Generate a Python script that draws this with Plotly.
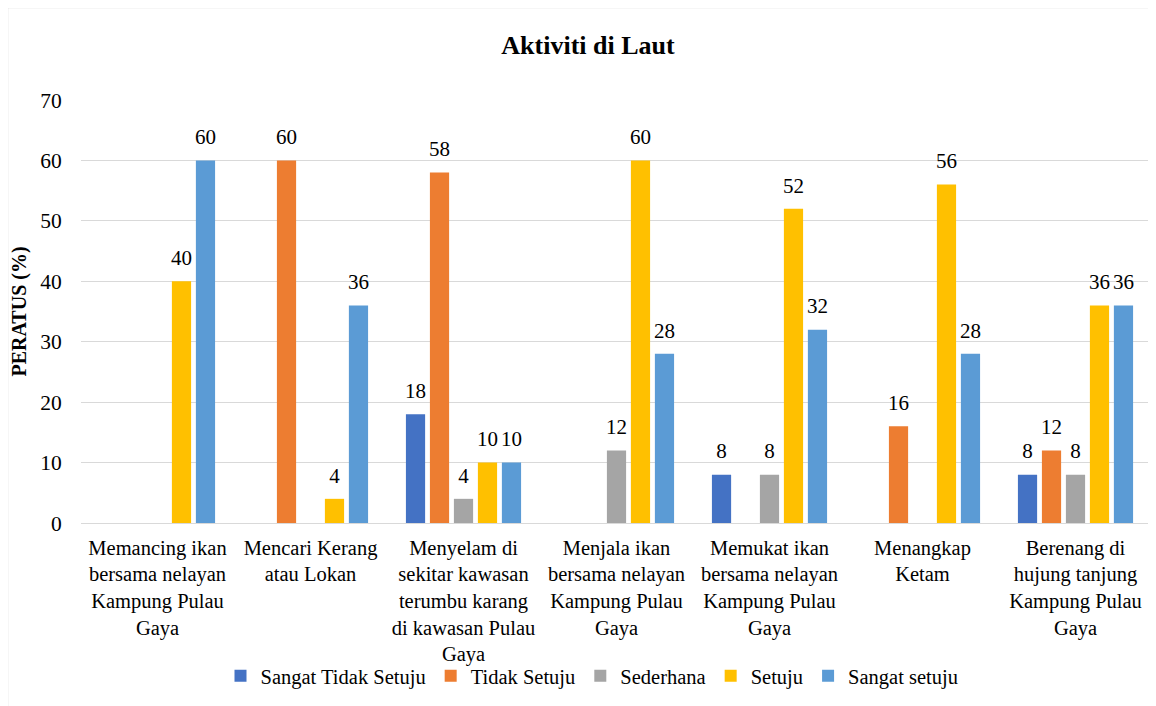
import plotly.graph_objects as go

categories = [
    "Memancing ikan<br>bersama nelayan<br>Kampung Pulau<br>Gaya",
    "Mencari Kerang<br>atau Lokan",
    "Menyelam di<br>sekitar kawasan<br>terumbu karang<br>di kawasan Pulau<br>Gaya",
    "Menjala ikan<br>bersama nelayan<br>Kampung Pulau<br>Gaya",
    "Memukat ikan<br>bersama nelayan<br>Kampung Pulau<br>Gaya",
    "Menangkap<br>Ketam",
    "Berenang di<br>hujung tanjung<br>Kampung Pulau<br>Gaya",
]
series_names = ["Sangat Tidak Setuju", "Tidak Setuju", "Sederhana", "Setuju", "Sangat setuju"]
sangat_tidak_setuju = [None, None, 18, None, 8, None, 8]
tidak_setuju = [None, 60, 58, None, None, 16, 12]
sederhana = [None, None, 4, 12, 8, None, 8]
setuju = [40, 4, 10, 60, 52, 56, 36]
sangat_setuju = [60, 36, 10, 28, 32, 28, 36]
y_ticks = [0, 10, 20, 30, 40, 50, 60, 70]

series_values = [sangat_tidak_setuju, tidak_setuju, sederhana, setuju, sangat_setuju]
colors = ["#4472C4", "#ED7D31", "#A5A5A5", "#FFC000", "#5B9BD5"]
FONT = "Liberation Serif"

W, H = 1148, 698
L, T, R, B = 73, 92, 4, 183
PW, PH = W - L - R, H - T - B

fig = go.Figure()
for i, (name, vals, col) in enumerate(zip(series_names, series_values, colors)):
    fig.add_trace(go.Bar(
        x=categories, y=vals, name=name, marker=dict(color=col, line=dict(width=0)),
        offsetgroup=str(i),
    ))
for i, (name, vals) in enumerate(zip(series_names, series_values)):
    fig.add_trace(go.Scatter(
        x=categories, y=vals, mode="text+markers", offsetgroup=str(i),
        text=["" if v is None else str(v) for v in vals],
        textposition="top center",
        marker=dict(size=16, opacity=0),
        textfont=dict(family=FONT, size=21, color="#000000"),
        showlegend=False, hoverinfo="skip", cliponaxis=False,
    ))

fig.update_layout(
    width=W, height=H,
    margin=dict(l=L, r=R, t=T, b=B),
    paper_bgcolor="white", plot_bgcolor="white",
    barmode="group", scattermode="group",
    bargap=0.216, bargroupgap=0.2, scattergap=0.216,
    font=dict(family=FONT, size=21, color="#000000"),
    title=dict(text="<b>Aktiviti di Laut</b>", x=(588 - 8 - L) / PW, xref="paper", xanchor="center",
               y=1 - 37 / H, yanchor="middle", font=dict(family=FONT, size=26, color="#000000")),
    showlegend=True,
    legend=dict(orientation="h", x=(592 - 8 - L) / PW, xanchor="center",
                y=-(676 - 523) / PH, yanchor="middle", bgcolor="rgba(0,0,0,0)",
                font=dict(family=FONT, size=20.5, color="#000000")),
    xaxis=dict(showgrid=False, showline=False, ticks="outside", ticklen=6, tickcolor="rgba(0,0,0,0)",
               tickfont=dict(family=FONT, size=20.5, color="#000000"), tickangle=0),
    yaxis=dict(range=[0, 70], tickvals=y_ticks, showgrid=True, gridcolor="#D9D9D9", gridwidth=1,
               zeroline=True, zerolinecolor="#D9D9D9", zerolinewidth=1,
               ticks="outside", ticklen=14, tickcolor="rgba(0,0,0,0)",
               tickfont=dict(family=FONT, size=21.5, color="#000000"),
               title=dict(text="<b>PERATUS (%)</b>", font=dict(family=FONT, size=20, color="#000000"),
                          standoff=10)),
    shapes=[dict(type="rect", xref="paper", yref="paper",
                 x0=(-1 - L + 0.5) / PW, x1=(1146 - L) / PW,
                 y0=1 + (T - 700) / PH, y1=1 + (T + 0.5) / PH,
                 line=dict(color="#D9D9D9", width=1.5), fillcolor="rgba(0,0,0,0)", layer="below")],
)

fig.write_html("out.html")
